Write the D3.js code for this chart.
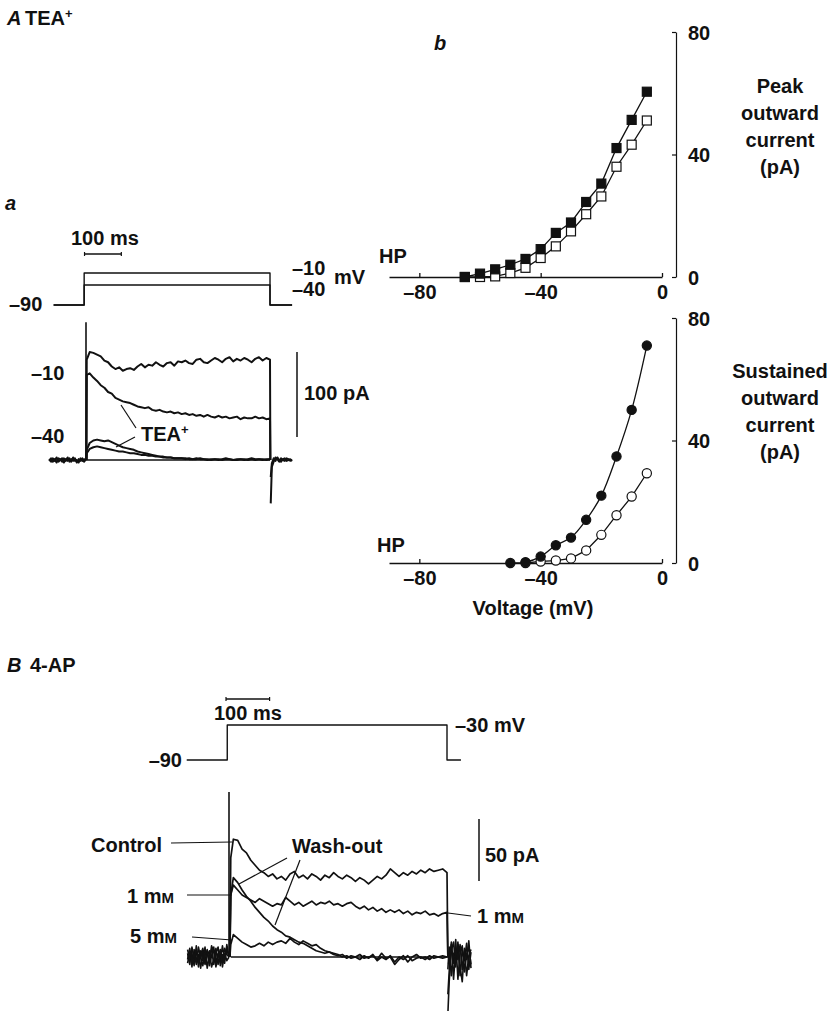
<!DOCTYPE html>
<html>
<head>
<meta charset="utf-8">
<script src="https://cdn.jsdelivr.net/npm/d3@7"></script>
<style>
  body { margin: 0; background: #fff; }
  svg text { font-family: "Liberation Sans", Arial, Helvetica, sans-serif; font-weight: bold; font-size: 20px; fill: #111; }
  svg text.it { font-style: italic; }
</style>
</head>
<body>
<div id="chart"></div>
<script>
const width = 833,
      height = 1011;

// ---- I-V data (panel A b)
const vPeakCtl = [-65,-60,-55,-50,-45,-40,-35,-30,-25,-20,-15,-10,-5],
      peakCtl  = [0,1.1,2.5,4.0,5.9,9.1,14.4,17.8,24.5,30.5,42.1,51.3,60.5];
const vPeakTea = [-65,-60,-55,-50,-45,-40,-35,-30,-25,-20,-15,-10,-5],
      peakTea  = [0,0,0.2,1.3,3.0,6.2,10.0,14.9,20.5,26.3,36.0,43.2,51.1];
const vSusCtl = [-50,-45,-40,-35,-30,-25,-20,-15,-10,-5],
      susCtl  = [0,0.3,2.1,5.8,8.3,14.1,22.0,34.8,50.0,71.0];
const vSusTea = [-45,-40,-35,-30,-25,-20,-15,-10,-5],
      susTea  = [0,0.5,0.8,1.5,4.1,9.2,15.6,21.7,29.3];
const voltTicks = [-80,-40,0],
      currTicks = [0,40,80];

// ---- current traces, sampled every 10 ms during the 500 ms pulse
const tPulse = [0,10,20,30,40,50,60,70,80,90,100,110,120,130,140,150,160,170,180,190,200,
  210,220,230,240,250,260,270,280,290,300,310,320,330,340,350,360,370,380,390,400,
  410,420,430,440,450,460,470,480,490,500];

// panel A a (pA)
const ctl10 = [118,127,126,124,122,117,115,110,107,109,
  105,107,108,106,110,113,109,112,111,115,
  112,110,114,115,111,116,115,117,114,113,
  118,119,115,114,117,120,118,115,119,121,
  116,119,117,120,118,115,119,121,117,120,118];
const tea10 = [100,102,97,93,88,85,80,78,73,71,
  69,68,67,65,63,62,61,62,59,58,
  59,57,56,57,55,56,54,55,53,54,
  52,53,51,53,51,50,52,50,51,49,
  50,51,48,50,49,49,51,49,50,48,49];
const ctl40 = [12,20,23,24,23,22,23,21,19,17,
  15,14,13,12,10,9,8,7,6,5,
  4,4,3,3,2,2,2,1,2,1,
  1,2,1,0,1,1,0,1,2,1,
  0,1,1,0,1,2,1,1,0,1,1];
const tea40 = [8,13,15,16,15,14,13,12,11,10,
  10,9,8,8,7,6,6,5,5,4,
  4,3,3,3,2,2,2,2,1,1,
  2,1,1,1,0,1,1,0,1,1,
  0,0,1,1,0,1,0,1,1,0,1];
const tPreA = [-100,-95,-90,-85,-80,-75,-70,-65,-60,-55,-50,-45,-40,-35,-30,-25,-20,-15,-10,-5,0],
      preA1 = [1,-2,2,-1,3,-2,0,2,-3,1,-1,2,-2,3,-1,0,-3,2,-1,1,0],
      preA2 = [-1,2,-2,1,-3,2,1,-2,2,-1,3,-2,1,-1,2,-3,1,-1,2,-2,1];
const tPostA = [502,505,510,515,520,525,530,535,540,545,550,555,560],
      postA1 = [-51,-8,-2,3,1,-2,2,0,-1,2,1,-1,0],
      postA2 = [-20,-4,2,-1,3,0,-2,1,2,-1,0,1,-1];
const capOnA = 162;

// panel B (pA)
const ctlB = [80,95,94,87,84,78,74,70,68,65,
  67,63,65,62,67,69,64,66,63,67,
  65,62,66,64,68,65,63,66,64,61,
  64,62,59,62,65,63,66,71,68,65,
  68,66,69,67,70,68,71,69,70,71,68];
const mm1B = [50,58,54,50,48,46,44,47,45,43,
  41,43,42,48,45,42,44,41,43,45,
  42,44,43,45,42,43,41,43,44,41,
  39,41,38,40,37,39,36,38,36,38,
  35,37,34,36,35,37,34,35,33,35,36];
const washB = [50,64,60,54,49,45,40,36,32,29,
  25,22,20,17,16,14,12,11,9,7,
  5,4,3,4,2,1,2,-1,1,0,
  -2,1,-1,2,-3,0,-2,1,-4,0,
  -2,1,-3,-1,0,-2,1,-1,0,1,0];
const mm5B = [10,18,15,12,10,8,9,11,9,12,
  10,12,13,11,15,12,10,13,11,9,
  10,7,5,4,3,2,0,1,-1,0,
  2,-1,0,1,-2,3,-1,0,-6,-2,
  1,-4,0,2,-1,0,-2,1,0,-1,0];
const tPreB = [-95,-90,-85,-80,-75,-70,-65,-60,-55,-50,-45,-40,-35,-30,-25,-20,-15,-10,-5,0],
      preB1 = [3,-6,8,-2,5,-8,2,7,-4,6,-7,1,8,-5,3,-3,9,-2,6,0],
      preB2 = [-5,4,-8,6,-3,2,-9,4,-6,1,5,-8,-2,7,-6,4,-4,7,2,0],
      preB3 = [6,-2,3,-7,9,-4,5,-3,8,-9,2,6,-6,3,8,-7,2,-5,10,0],
      preB4 = [-2,7,-4,3,-6,8,-1,-7,3,5,-4,9,4,-8,0,6,-8,3,-3,0];
const tPostB = [502,505,510,515,520,525,530,535,540,545,550,555],
      postB1 = [-46,-20,5,12,-8,10,-15,6,-3,11,-10,4],
      postB2 = [-30,-12,10,-5,14,-18,3,9,-12,2,8,-6],
      postB3 = [-10,8,-15,3,-4,12,-8,-20,7,-2,13,-9],
      postB4 = [-5,-5,12,-18,6,-2,10,-10,4,-15,1,6];
const capOnB = 133;

const svg = d3.select('#chart').append('svg')
    .attr('width', width)
    .attr('height', height);

svg.append('rect').attr('width', width).attr('height', height).attr('fill', '#fff');

const neg = d => d < 0 ? '\u2013' + Math.abs(d) : d;
const zip = (t, v) => t.map((d, i) => [d, v[i]]);

// ================= I-V plots =================
const xV = d3.scaleLinear().domain([-90, 0]).range([389, 662]),
      yPeak = d3.scaleLinear().domain([0, 80]).range([277, 32]),
      ySus = d3.scaleLinear().domain([0, 80]).range([563, 318]);

function ivPanel(y, series) {
  svg.append('g')
      .attr('transform', `translate(0,${y(0)})`)
      .call(d3.axisBottom(xV).tickValues(voltTicks).tickSize(-4).tickSizeOuter(0).tickPadding(8).tickFormat(neg))
      .call(g => g.selectAll('path, line').attr('stroke', '#111').attr('stroke-width', 1.3));
  svg.append('g')
      .attr('transform', 'translate(676,0)')
      .call(d3.axisRight(y).tickValues(currTicks).tickSize(-4).tickSizeOuter(0).tickPadding(12))
      .call(g => g.selectAll('path, line').attr('stroke', '#111').attr('stroke-width', 1.2))
      .call(g => g.selectAll('text').attr('dy', '0.36em'));

  series.forEach(s => {
    const pts = zip(s.v, s.i);
    svg.append('path')
        .attr('d', d3.line().x(d => xV(d[0])).y(d => y(d[1])).curve(s.curve)(pts))
        .attr('fill', 'none').attr('stroke', '#111').attr('stroke-width', 1.3);
    const g = svg.append('g');
    if (s.shape === 'square') {
      g.selectAll('rect').data(pts).enter().append('rect')
          .attr('x', d => xV(d[0]) - 4.5).attr('y', d => y(d[1]) - 4.5)
          .attr('width', 9).attr('height', 9)
          .attr('fill', s.fill).attr('stroke', '#111').attr('stroke-width', 1.2);
    } else {
      g.selectAll('circle').data(pts).enter().append('circle')
          .attr('cx', d => xV(d[0])).attr('cy', d => y(d[1])).attr('r', 4.6)
          .attr('fill', s.fill).attr('stroke', '#111').attr('stroke-width', 1.2);
    }
  });
}

ivPanel(yPeak, [
  { v: vPeakTea, i: peakTea, shape: 'square', fill: '#fff', curve: d3.curveLinear },
  { v: vPeakCtl, i: peakCtl, shape: 'square', fill: '#111', curve: d3.curveLinear }
]);
ivPanel(ySus, [
  { v: vSusTea, i: susTea, shape: 'circle', fill: '#fff', curve: d3.curveLinear },
  { v: vSusCtl, i: susCtl, shape: 'circle', fill: '#111', curve: d3.curveCatmullRom }
]);

// ================= trace helpers =================
function trace(g, x, y, pts, w) {
  g.append('path')
      .attr('d', d3.line().x(d => x(d[0])).y(d => y(d[1]))(pts))
      .attr('fill', 'none').attr('stroke', '#111')
      .attr('stroke-width', w).attr('stroke-linejoin', 'round');
}
function seg(x1, y1, x2, y2, w) {
  svg.append('line').attr('x1', x1).attr('y1', y1).attr('x2', x2).attr('y2', y2)
      .attr('stroke', '#111').attr('stroke-width', w || 1.2);
}
function label(txt, x, y, anchor, cls) {
  const t = svg.append('text').attr('x', x).attr('y', y).attr('text-anchor', anchor || 'start');
  if (cls) t.attr('class', cls);
  return t.text(txt);
}
function mM(num, x, y, anchor) {
  const t = svg.append('text').attr('x', x).attr('y', y).attr('text-anchor', anchor || 'start');
  t.append('tspan').text(num + ' m');
  t.append('tspan').style('font-size', '15px').text('M');
}

// ================= panel A a =================
const xA = d3.scaleLinear().domain([0, 500]).range([86, 270]),
      yVA = d3.scaleLinear().domain([-90, -10]).range([305, 273]),
      yIA = d3.scaleLinear().domain([0, 100]).range([460, 375]);

const gA = svg.append('g');
// voltage protocol
[-10, -40].forEach(v => trace(gA, xA, yVA, [[-88, -90], [-5, -90], [-5, v], [500, v], [500, -90], [560, -90]], 1.4));
// time scale bar
seg(xA(-4), 254, xA(96), 254, 1.4);
seg(xA(-4), 252, xA(-4), 256, 1.2);
seg(xA(96), 252, xA(96), 256, 1.2);
// zero line and capacitive transient
trace(gA, xA, yIA, [[0, 0], [500, 0]], 1.4);
trace(gA, xA, yIA, [[0, 0], [0, capOnA]], 1.6);
trace(gA, xA, yIA, zip(tPreA, preA1), 2);
trace(gA, xA, yIA, zip(tPreA, preA2), 2);
trace(gA, xA, yIA, zip(tPostA, postA1), 2);
trace(gA, xA, yIA, zip(tPostA, postA2), 2);
[ctl10, tea10, ctl40, tea40].forEach(vals => {
  trace(gA, xA, yIA, [[1, 0]].concat(zip(tPulse, vals).map((d, i) => i === 0 ? [2, d[1]] : d), [[501, 0]]), 2);
});
// current scale bar (100 pA)
const barA = yIA(0) - yIA(100);
seg(297, 352, 297, 352 + barA, 1.5);

// ================= panel B =================
const xB = d3.scaleLinear().domain([0, 500]).range([229, 447]),
      yVB = d3.scaleLinear().domain([-90, -30]).range([760, 725]),
      yIB = d3.scaleLinear().domain([0, 50]).range([957, 895]);

const gB = svg.append('g');
trace(gB, xB, yVB, [[-97, -90], [-4, -90], [-4, -30], [500, -30], [500, -90], [532, -90]], 1.4);
const msB = xB(100) - xB(0);
seg(226, 699, 226 + msB, 699, 1.4);
seg(226, 697, 226, 701, 1.2);
seg(226 + msB, 697, 226 + msB, 701, 1.2);

trace(gB, xB, yIB, [[4, 0], [500, 0]], 1.3);
trace(gB, xB, yIB, [[0, 0], [0, capOnB]], 1.6);
[preB1, preB2, preB3, preB4].forEach(v => trace(gB, xB, yIB, zip(tPreB, v), 1.6));
[postB1, postB2, postB3, postB4].forEach(v => trace(gB, xB, yIB, zip(tPostB, v), 1.6));
[ctlB, mm1B, washB, mm5B].forEach(vals => {
  trace(gB, xB, yIB, [[2, 0]].concat(zip(tPulse, vals).map((d, i) => i === 0 ? [4, d[1]] : d), [[502, 0]]), 1.7);
});
// current scale bar (50 pA)
const barB = yIB(0) - yIB(50);
seg(479, 819, 479, 819 + barB, 1.5);

// ================= labels =================
// A
label('A', 7, 25, 'start', 'it');
const tTea = svg.append('text').attr('x', 25).attr('y', 25);
tTea.append('tspan').text('TEA');
tTea.append('tspan').attr('dy', -7).style('font-size', '13px').text('+');
label('a', 5, 210, 'start', 'it');
label('b', 434, 50, 'start', 'it');
label('100 ms', 71, 245);
label('\u201310', 292, 275);
label('mV', 334, 284);
label('\u201340', 292, 296);
label('\u201390', 9, 311);
label('\u201310', 31, 380);
label('\u201340', 31, 443);
label('100 pA', 304, 400);
const tTea2 = svg.append('text').attr('x', 141).attr('y', 441);
tTea2.append('tspan').text('TEA');
tTea2.append('tspan').attr('dy', -7).style('font-size', '13px').text('+');
seg(136, 428, 121, 405);
seg(135, 437, 116, 447);

// I-V labels
label('HP', 379, 263);
label('HP', 377, 552);
['Peak', 'outward', 'current', '(pA)'].forEach((s, i) => label(s, 780, 93 + i * 27, 'middle'));
['Sustained', 'outward', 'current', '(pA)'].forEach((s, i) => label(s, 780, 378 + i * 27, 'middle'));
label('Voltage (mV)', 533, 615, 'middle');

// B
label('B', 7, 672, 'start', 'it');
label('4-AP', 30, 672);
label('100 ms', 214, 720);
label('\u201330 mV', 455, 732);
label('\u201390', 182, 767, 'end');
label('Control', 91, 852);
mM(1, 127, 903);
mM(5, 130, 943);
mM(1, 477, 923);
label('Wash-out', 292, 853);
label('50 pA', 485, 862);
seg(171, 843, 232, 842);
seg(187, 895, 232, 895);
seg(192, 937, 232, 940);
seg(448, 913, 471, 916);
seg(287, 858, 239, 884);
seg(300, 860, 275, 925);
</script>
</body>
</html>
